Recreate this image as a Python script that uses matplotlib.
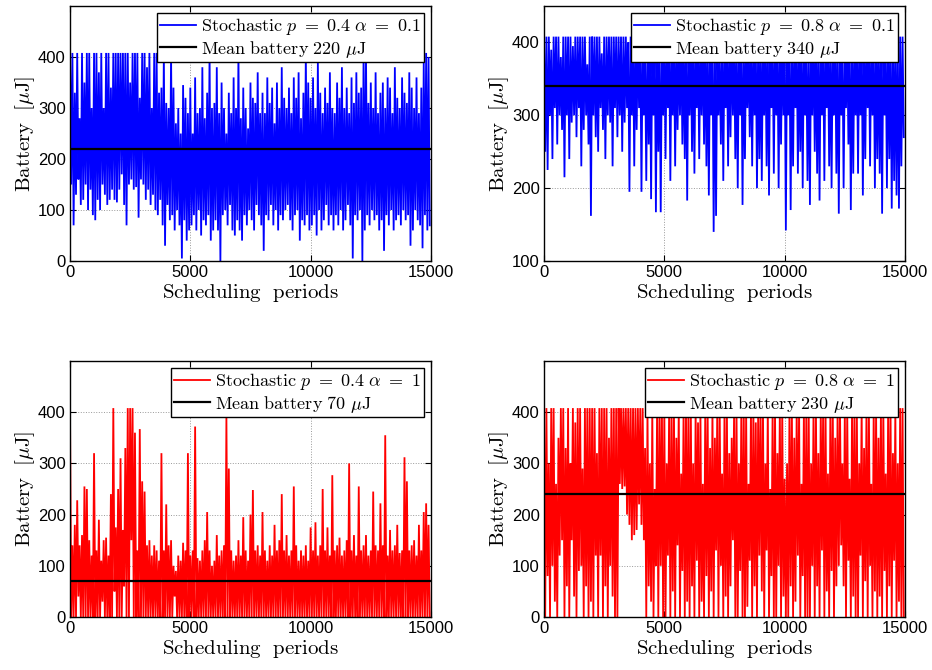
import numpy as np
import matplotlib
matplotlib.use('Agg')
from matplotlib import pyplot as plt

plt.rcParams['mathtext.fontset'] = 'cm'
plt.rcParams['font.family'] = ['Liberation Sans', 'DejaVu Sans']

# ── Data: per 100-period block, the high and low of the trace ──
period_step = 100

p1_hi = [408, 408, 330, 408, 280, 408, 350, 408, 408, 300,
         408, 408, 370, 408, 300, 408, 408, 340, 408, 408,
         408, 408, 408, 408, 408, 350, 408, 408, 408, 320,
         408, 408, 380, 408, 300, 408, 408, 330, 340, 408,
         310, 300, 408, 340, 270, 300, 250, 345, 320, 290,
         340, 250, 360, 290, 300, 380, 280, 330, 408, 300,
         310, 380, 290, 350, 300, 250, 330, 290, 360, 300,
         408, 280, 340, 300, 260, 350, 320, 310, 370, 290,
         330, 290, 360, 310, 340, 270, 350, 300, 380, 320,
         300, 340, 290, 360, 320, 370, 280, 330, 408, 350,
         320, 360, 300, 390, 330, 290, 340, 310, 370, 300,
         290, 350, 320, 380, 300, 340, 290, 360, 310, 370,
         330, 340, 408, 408, 310, 350, 300, 370, 290, 330,
         350, 300, 360, 340, 290, 380, 320, 300, 360, 330,
         310, 370, 340, 300, 360, 290, 340, 390, 408, 400]
p1_lo = [150, 70, 130, 160, 110, 120, 150, 100, 140, 90,
         80, 120, 100, 150, 130, 110, 120, 140, 120, 115,
         140, 170, 110, 70, 150, 160, 140, 145, 85, 160,
         150, 120, 140, 110, 130, 100, 90, 120, 70, 30,
         110, 80, 90, 60, 100, 70, 5, 80, 40, 60,
         70, 90, 60, 100, 50, 80, 70, 90, 40, 60,
         80, 60, 0, 90, 100, 70, 110, 60, 50, 80,
         60, 40, 90, 70, 100, 80, 60, 110, 90, 70,
         20, 90, 80, 110, 70, 100, 60, 90, 80, 100,
         110, 80, 60, 90, 100, 40, 80, 70, 90, 60,
         70, 90, 50, 100, 60, 80, 110, 70, 90, 60,
         90, 70, 100, 60, 80, 110, 70, 5, 90, 80,
         100, 0, 60, 90, 70, 100, 80, 90, 60, 80,
         20, 90, 70, 100, 60, 80, 90, 70, 100, 80,
         90, 30, 60, 100, 80, 70, 25, 90, 60, 70]

p2_hi = [408, 408, 408, 390, 408, 408, 408, 380, 408, 408,
         408, 408, 395, 408, 408, 408, 408, 408, 370, 408,
         408, 408, 408, 408, 385, 408, 408, 408, 408, 408,
         408, 408, 408, 408, 408, 400, 408, 408, 408, 408,
         408, 408, 380, 408, 408, 408, 408, 408, 408, 395,
         408, 408, 408, 408, 408, 408, 390, 408, 408, 408,
         408, 408, 408, 408, 408, 408, 408, 408, 408, 408,
         408, 408, 408, 380, 408, 408, 408, 408, 408, 408,
         408, 408, 408, 408, 408, 395, 408, 408, 408, 408,
         408, 408, 408, 408, 408, 408, 408, 408, 408, 408,
         408, 408, 408, 408, 408, 408, 408, 408, 408, 390,
         408, 408, 408, 408, 408, 408, 408, 408, 408, 408,
         408, 408, 408, 408, 408, 380, 408, 408, 408, 408,
         408, 408, 408, 408, 408, 408, 408, 408, 408, 408,
         408, 408, 408, 408, 408, 408, 408, 408, 408, 408]
p2_lo = [250, 225, 300, 240, 310, 260, 300, 280, 215, 300,
         240, 290, 300, 270, 310, 230, 280, 300, 260, 162,
         300, 270, 250, 310, 280, 240, 300, 290, 230, 310,
         270, 300, 250, 290, 310, 195, 300, 230, 280, 310,
         195, 300, 210, 260, 185, 300, 167, 250, 167, 300,
         240, 310, 210, 300, 230, 280, 300, 260, 240, 183,
         300, 250, 220, 310, 240, 300, 260, 230, 190, 300,
         140, 162, 300, 260, 210, 310, 230, 270, 300, 240,
         200, 300, 177, 240, 310, 270, 230, 300, 200, 240,
         210, 300, 230, 190, 310, 220, 300, 200, 260, 300,
         142, 300, 170, 230, 310, 220, 250, 200, 300, 210,
         177, 300, 250, 220, 183, 300, 210, 310, 230, 200,
         300, 220, 165, 300, 200, 310, 260, 170, 220, 300,
         220, 300, 190, 240, 310, 230, 300, 200, 240, 220,
         165, 300, 200, 240, 172, 210, 190, 172, 230, 270]

p3_hi = [408, 140, 180, 228, 140, 160, 255, 250, 150, 120,
         320, 130, 190, 110, 150, 155, 120, 240, 408, 175,
         250, 310, 170, 330, 408, 408, 408, 360, 130, 367,
         265, 245, 140, 150, 120, 140, 130, 110, 320, 130,
         220, 140, 150, 100, 90, 120, 110, 145, 130, 320,
         120, 130, 372, 115, 110, 130, 150, 205, 130, 100,
         110, 160, 120, 130, 140, 392, 290, 130, 110, 120,
         150, 120, 195, 130, 110, 200, 248, 130, 140, 120,
         205, 130, 110, 140, 120, 180, 130, 150, 240, 130,
         160, 120, 130, 255, 140, 110, 130, 120, 140, 110,
         175, 130, 185, 120, 140, 250, 130, 175, 120, 277,
         130, 140, 155, 120, 130, 150, 300, 130, 160, 120,
         255, 130, 140, 160, 120, 130, 245, 140, 130, 222,
         140, 355, 120, 170, 130, 140, 180, 125, 130, 312,
         265, 130, 140, 150, 120, 180, 130, 205, 222, 180]
p3_lo = [0, 0, 0, 40, 0, 0, 0, 0, 0, 0,
         0, 0, 0, 30, 0, 0, 0, 0, 50, 0,
         0, 0, 60, 0, 0, 150, 0, 0, 0, 0,
         0, 0, 0, 0, 0, 0, 0, 0, 0, 0,
         0, 0, 0, 40, 0, 0, 0, 0, 0, 0,
         0, 0, 0, 0, 0, 0, 0, 0, 0, 0,
         0, 0, 0, 0, 0, 0, 0, 0, 0, 0,
         0, 0, 0, 0, 0, 0, 0, 0, 0, 0,
         0, 0, 0, 0, 0, 0, 0, 0, 0, 0,
         0, 0, 0, 0, 0, 0, 0, 0, 0, 0,
         0, 0, 0, 0, 0, 0, 0, 0, 0, 0,
         0, 0, 0, 0, 0, 0, 0, 0, 0, 0,
         0, 0, 0, 0, 0, 0, 0, 0, 0, 0,
         0, 0, 0, 0, 0, 0, 0, 0, 0, 0,
         0, 0, 0, 0, 0, 0, 0, 0, 0, 0]

p4_hi = [408, 408, 300, 408, 408, 260, 350, 408, 408, 330,
         408, 300, 408, 380, 408, 408, 290, 408, 408, 408,
         408, 408, 320, 408, 408, 408, 408, 350, 408, 408,
         408, 408, 408, 408, 408, 408, 408, 408, 408, 408,
         408, 408, 330, 408, 300, 408, 250, 408, 408, 408,
         408, 300, 408, 408, 408, 350, 408, 280, 408, 408,
         408, 408, 300, 408, 380, 408, 260, 408, 408, 330,
         408, 350, 408, 408, 280, 408, 408, 320, 350, 408,
         408, 300, 408, 408, 408, 260, 408, 408, 380, 408,
         408, 408, 300, 408, 250, 408, 408, 320, 408, 408,
         270, 300, 408, 408, 350, 408, 408, 260, 408, 408,
         408, 300, 408, 408, 320, 408, 408, 408, 280, 408,
         408, 350, 408, 408, 300, 408, 408, 270, 408, 408,
         408, 300, 408, 330, 408, 408, 260, 408, 408, 350,
         408, 408, 280, 408, 408, 320, 408, 300, 408, 408]
p4_lo = [0, 80, 0, 100, 30, 0, 120, 150, 0, 60,
         0, 150, 40, 0, 90, 100, 0, 60, 0, 30,
         0, 120, 0, 120, 0, 60, 0, 100, 40, 0,
         0, 260, 250, 255, 200, 180, 150, 160, 170, 220,
         180, 150, 0, 60, 30, 0, 100, 0, 100, 0,
         0, 120, 0, 50, 0, 140, 0, 90, 0, 30,
         0, 60, 0, 110, 0, 30, 0, 80, 0, 50,
         0, 130, 0, 100, 0, 40, 0, 60, 150, 0,
         0, 90, 0, 0, 20, 110, 0, 60, 0, 120,
         50, 0, 130, 0, 80, 0, 0, 100, 0, 40,
         0, 0, 60, 0, 30, 120, 0, 80, 0, 0,
         0, 100, 0, 60, 0, 130, 0, 50, 0, 90,
         0, 60, 100, 140, 60, 0, 110, 0, 40, 0,
         0, 120, 0, 70, 0, 100, 0, 50, 0, 40,
         0, 90, 0, 60, 0, 110, 0, 30, 0, 0]

mean_vals = [220, 340, 70, 240]
legend_p = ['0.4', '0.8', '0.4', '0.8']
legend_alpha = ['0.1', '0.1', '1', '1']
legend_mean = ['220', '340', '70', '230']
series_hi = [p1_hi, p2_hi, p3_hi, p4_hi]
series_lo = [p1_lo, p2_lo, p3_lo, p4_lo]
colors = ['#0000ff', '#0000ff', '#ff0000', '#ff0000']
ylims = [(0, 500), (100, 450), (0, 500), (0, 500)]
yticks = [[0, 100, 200, 300, 400], [100, 200, 300, 400],
          [0, 100, 200, 300, 400], [0, 100, 200, 300, 400]]

# ── Figure ─────────────────────────────────────────────────────────────────
fig = plt.figure(figsize=(9.32, 6.70), dpi=100)
positions = [[0.0751, 0.6104, 0.3873, 0.3806],
             [0.5837, 0.6104, 0.3873, 0.3806],
             [0.0751, 0.0791, 0.3873, 0.3821],
             [0.5837, 0.0791, 0.3873, 0.3821]]

for i in range(4):
    ax = fig.add_axes(positions[i])
    hi = np.array(series_hi[i], dtype=float)
    lo = np.array(series_lo[i], dtype=float)
    # interleave block highs and lows into a single trace
    y = np.empty(2 * len(hi))
    y[0::2] = hi
    y[1::2] = lo
    x = np.arange(len(y)) * (period_step / 2)

    lbl = (r'$\mathrm{Stochastic}\ p\ =\ ' + legend_p[i] +
           r'\ \alpha\ =\ ' + legend_alpha[i] + '$')
    ax.plot(x, y, color=colors[i], linewidth=1.3, label=lbl, zorder=2,
            solid_joinstyle='miter')
    ax.axhline(mean_vals[i], color='black', linewidth=1.6, zorder=3,
               label=r'$\mathrm{Mean\ battery}\ ' + legend_mean[i] +
               r'\ \mu\mathrm{J}$')

    ax.set_xlim(0, 15000)
    ax.set_ylim(*ylims[i])
    ax.set_xticks([0, 5000, 10000, 15000])
    ax.set_yticks(yticks[i])
    ax.tick_params(direction='in', top=True, right=True, length=4,
                   labelsize=12, width=0.8, pad=3)
    ax.grid(True, linestyle=':', color='#999999', linewidth=0.7)
    for s in ax.spines.values():
        s.set_linewidth(1.0)

    ax.set_xlabel(r'$\mathrm{Scheduling\ \ periods}$', fontsize=15,
                  labelpad=1)
    ax.set_ylabel(r'$\mathrm{Battery}\ \ [\mu\mathrm{J}]$', fontsize=15,
                  labelpad=1)

    leg = ax.legend(loc='upper right', fontsize=13, fancybox=False,
                    framealpha=1, edgecolor='black', borderaxespad=0.4,
                    handlelength=2.0, handletextpad=0.3, borderpad=0.15,
                    labelspacing=0.1)
    leg.get_frame().set_linewidth(1.0)

fig.savefig('out.png', dpi=100)
